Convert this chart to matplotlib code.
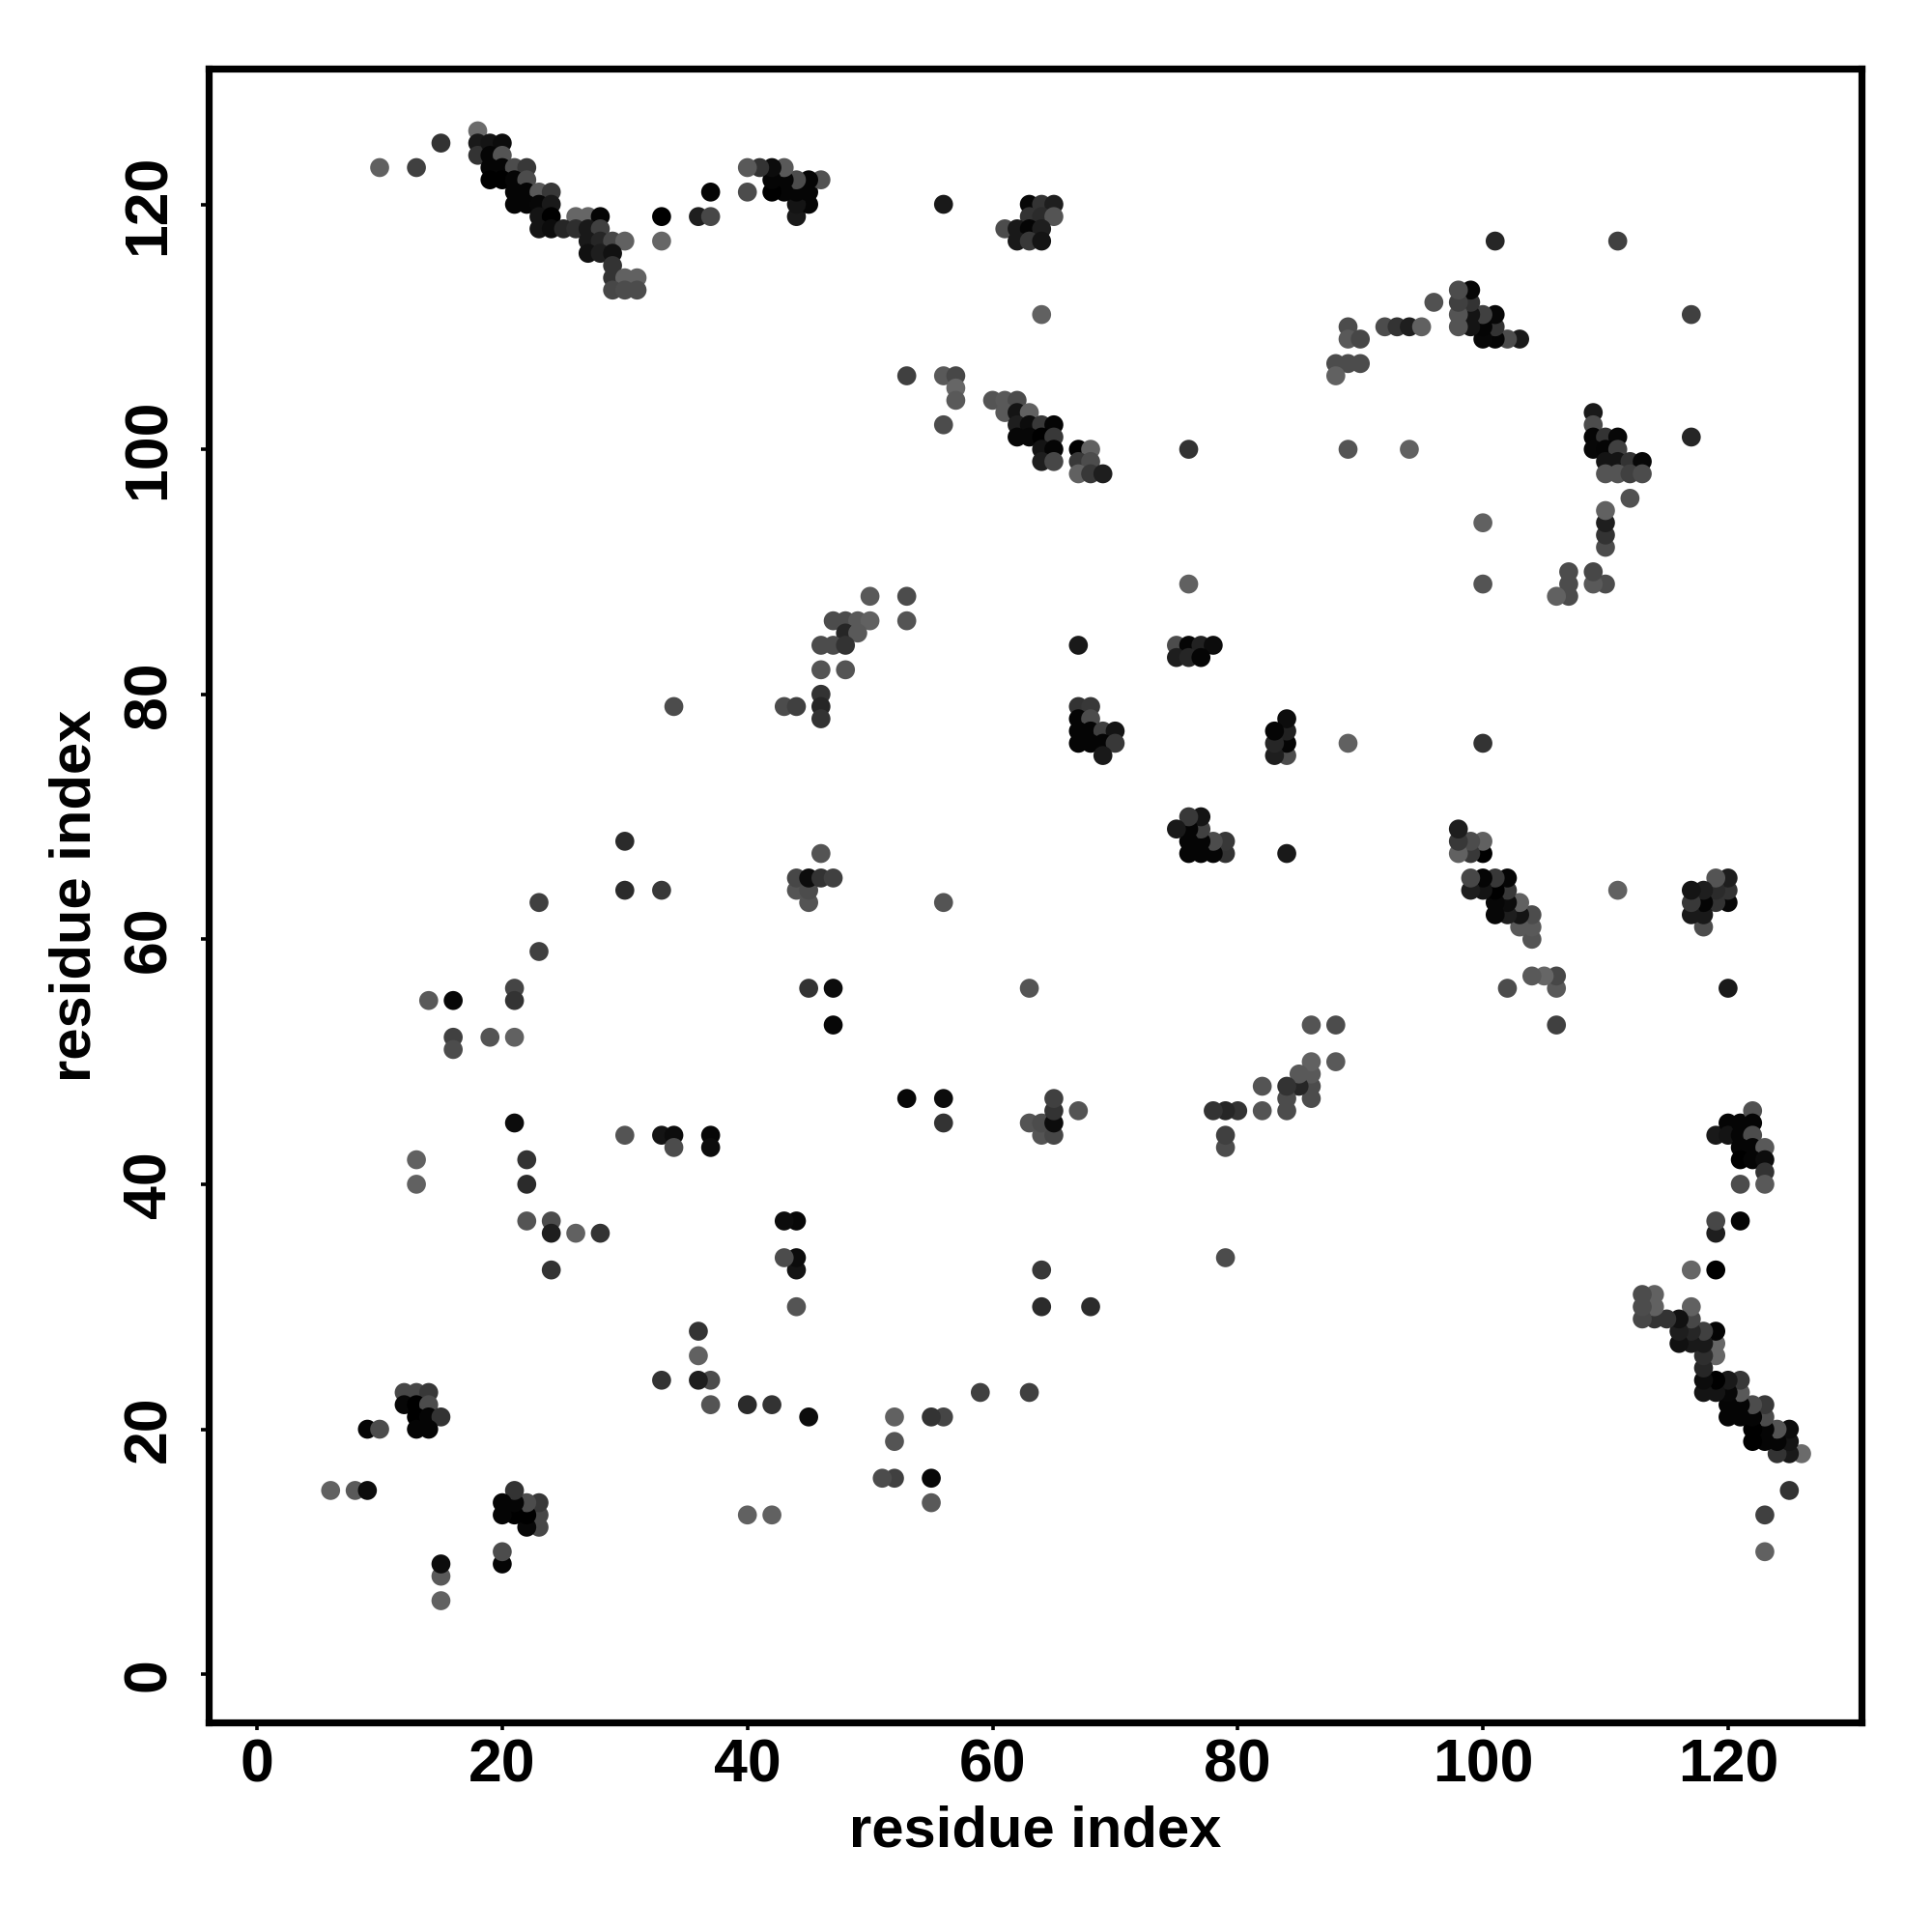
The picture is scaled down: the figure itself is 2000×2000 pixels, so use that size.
import matplotlib
matplotlib.use("Agg")
import matplotlib.pyplot as plt
import numpy as np

plt.rcParams['font.family'] = ['Liberation Sans', 'DejaVu Sans']
plt.rcParams['font.weight'] = 'bold'

# contact map is symmetric, so only i < j is listed (i, j, grey level)
res_i = [
    # 18-33 against 113-126
    18, 18, 18, 19, 20, 19, 20, 19, 20, 21, 22,
    19, 20, 21, 22, 21, 22, 23, 24, 21, 22, 23, 24,
    23, 24, 26, 27, 28, 23, 24, 25, 26, 27, 28,
    27, 28, 29, 30, 33, 27, 28, 29, 29, 29, 30, 31, 29, 30, 31,
    # top row strays
    10, 13, 15, 33, 36, 37, 37,
    # 40-46 against 119-123
    44, 45, 44, 45, 46, 45, 44, 44, 43, 43, 43, 42, 42, 42, 41, 40, 40,
    # 61-65 against 117-120
    63, 64, 65, 63, 64, 65, 61, 62, 63, 64, 62, 63, 64,
    56, 64, 101, 111,
    # 98-103 against 109-113
    103, 102, 101, 101, 101, 100, 100, 100, 99, 99, 99, 99, 98, 98, 98, 98,
    # 88-96 against 100-112
    96, 92, 93, 94, 95, 89, 89, 90, 88, 89, 90, 88, 89, 94,
    # 53-69 against 98-106
    53, 56, 57, 57, 57, 56,
    60, 61, 62, 61, 62, 63, 62, 63, 64, 65, 62, 63, 64, 65,
    64, 65, 64, 65, 67, 68, 67, 68, 67, 68, 69,
    76, 76,
    # 34-53 against 78-88
    50, 53, 53, 47, 48, 49, 50, 48, 49, 46, 47, 48, 46, 48,
    46, 46, 43, 44, 46, 34,
    # 67-70 against 75-84
    67, 68, 67, 68, 67, 68, 69, 70, 67, 68, 69, 70, 69, 67,
    # 75-78 against 83-84
    75, 76, 77, 78, 75, 76, 77,
    # 14-47 against 40-68
    30, 30, 33, 23, 23, 21, 21, 14, 16, 16, 16, 19, 21,
    44, 44, 45, 45, 45, 46, 46, 47, 45, 47, 47, 56,
    30, 33, 34, 34, 37, 37, 21, 22, 22, 13, 13,
    # 22-28 against 33-37
    22, 24, 24, 26, 28, 24,
    # lower left corner
    9, 10, 12, 13, 14, 12, 13, 14, 13, 14, 15, 13, 14,
    6, 8, 9,
]

res_j = [
    126, 125, 124, 125, 125, 124, 124, 123, 123, 123, 123,
    122, 122, 122, 122, 121, 121, 121, 121, 120, 120, 120, 120,
    119, 119, 119, 119, 119, 118, 118, 118, 118, 118, 118,
    117, 117, 117, 117, 117, 116, 116, 116, 115, 114, 114, 114, 113, 113, 113,
    123, 123, 125, 119, 119, 119, 121,
    119, 120, 120, 121, 122, 122, 121, 122, 121, 122, 123, 121, 122, 123, 123, 123, 121,
    120, 120, 120, 119, 119, 119, 118, 118, 118, 118, 117, 117, 117,
    120, 111, 117, 117,
    109, 109, 109, 110, 111, 109, 110, 111, 110, 111, 112, 113, 110, 111, 112, 113,
    112, 110, 110, 110, 110, 110, 109, 109, 107, 107, 107, 106, 100, 100,
    106, 106, 106, 105, 104, 102,
    104, 104, 104, 103, 103, 103, 102, 102, 102, 102, 101, 101, 101, 101,
    100, 100, 99, 99, 100, 100, 99, 99, 98, 98, 98,
    100, 89,
    88, 88, 86, 86, 86, 86, 86, 85, 85, 84, 84, 84, 82, 82,
    80, 79, 79, 79, 78, 79,
    79, 79, 78, 78, 77, 77, 77, 77, 76, 76, 76, 76, 75, 84,
    84, 84, 84, 84, 83, 83, 83,
    68, 64, 64, 63, 59, 56, 55, 55, 55, 52, 51, 52, 52,
    64, 65, 63, 64, 65, 65, 67, 65, 56, 56, 53, 63,
    44, 44, 44, 43, 44, 43, 45, 42, 40, 42, 40,
    37, 37, 36, 36, 36, 33,
    20, 20, 23, 23, 23, 22, 22, 22, 21, 21, 21, 20, 20,
    15, 15, 15,
]

shade = [
    .42, .10, .20, .08, .05, .02, .33, .02, .02, .30, .22,
    .00, .00, .02, .30, .02, .02, .35, .22, .02, .02, .03, .10,
    .08, .00, .40, .40, .02, .08, .05, .15, .18, .10, .25,
    .10, .15, .28, .38, .40, .07, .12, .07, .20, .20, .38, .38, .28, .30, .30,
    .38, .25, .20, .00, .12, .28, .02,
    .10, .02, .08, .02, .32, .02, .02, .30, .02, .02, .35, .00, .02, .05, .20, .35, .30,
    .03, .20, .12, .20, .17, .33, .30, .10, .02, .12, .10, .22, .08,
    .10, .38, .15, .25,
    .10, .30, .02, .20, .03, .03, .02, .25, .08, .08, .20, .03, .33, .33, .25, .30,
    .32, .30, .20, .12, .38, .30, .35, .28, .30, .30, .30, .38, .33, .38,
    .25, .35, .28, .40, .35, .30,
    .33, .35, .30, .35, .08, .38, .12, .05, .22, .02, .03, .03, .00, .22,
    .08, .02, .12, .28, .00, .38, .22, .30, .38, .22, .12,
    .20, .38,
    .35, .30, .33, .30, .30, .35, .38, .15, .35, .30, .30, .20, .33, .33,
    .20, .15, .30, .25, .20, .30,
    .20, .22, .02, .30, .02, .02, .25, .08, .02, .02, .02, .22, .10, .10,
    .30, .02, .13, .05, .12, .15, .02,
    .17, .17, .22, .25, .25, .27, .20, .35, .03, .25, .30, .33, .38,
    .33, .28, .33, .30, .05, .20, .33, .25, .20, .05, .03, .33,
    .33, .08, .05, .30, .03, .05, .05, .20, .17, .38, .38,
    .33, .30, .12, .38, .20, .20,
    .02, .30, .28, .28, .22, .03, .00, .30, .00, .02, .20, .02, .02,
    .38, .35, .05,
]

tick_values = [0, 20, 40, 60, 80, 100, 120]

fig = plt.figure(figsize=(10, 10), dpi=200)
ax = fig.add_axes([0.1080, 0.1084, 0.8556, 0.8559])

# same contacts on both sides of the diagonal
i_vals = np.array(res_i)
j_vals = np.array(res_j)
s_vals = np.array(shade)
ax.scatter(np.r_[i_vals, j_vals], np.r_[j_vals, i_vals], c=np.r_[s_vals, s_vals],
           cmap='gray', vmin=0, vmax=1, s=50, linewidths=0, clip_on=False)

ax.set_xlim(-3.95, 130.9)
ax.set_ylim(-3.95, 131.05)
ax.set_xticks(tick_values)
ax.set_yticks(tick_values)
ax.tick_params(axis='x', length=3, width=1.3, labelsize=22.5, pad=2.5)
ax.tick_params(axis='y', length=3, width=1.3, labelsize=22.5, pad=8.5)
for label in ax.get_yticklabels():
    label.set_rotation(90)
    label.set_va('center')
for spine in ax.spines.values():
    spine.set_linewidth(2.6)

ax.set_xlabel('residue index', fontsize=21.5, fontweight='bold', labelpad=4)
ax.set_ylabel('residue index', fontsize=21.5, fontweight='bold', labelpad=7)

plt.savefig('out.png')
